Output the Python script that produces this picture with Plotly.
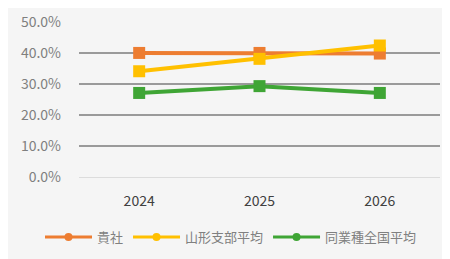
import plotly.graph_objects as go

years = ["2024", "2025", "2026"]
kisha = [0.400, 0.400, 0.398]
yamagata = [0.341, 0.381, 0.424]
zenkoku = [0.271, 0.293, 0.271]
names = ["貴社", "山形支部平均", "同業種全国平均"]
colors = ["#ED7D31", "#FFC000", "#3FA535"]
ytick_vals = [0, 0.1, 0.2, 0.3, 0.4, 0.5]

fig = go.Figure()
for name, vals, c in zip(names, [kisha, yamagata, zenkoku], colors):
    fig.add_trace(go.Scatter(
        x=years, y=vals, name=name, mode="lines+markers", showlegend=False,
        line=dict(color=c, width=4),
        marker=dict(symbol="square", size=12, color=c),
    ))
    # legend-only entry styled like the reference legend key
    fig.add_trace(go.Scatter(
        x=[None], y=[None], name=name, mode="lines+markers",
        line=dict(color=c, width=3),
        marker=dict(symbol="circle", size=8, color=c),
    ))

# page body has an 8px margin, so the figure is drawn 8px in and 8px down
W, H = 442, 251
L, R, T, B = 71, 10, 13, 82
pw, ph = W - L - R, H - T - B
fig.update_layout(
    width=W, height=H,
    margin=dict(l=L, r=R, t=T, b=B, autoexpand=False),
    paper_bgcolor="#f5f5f5", plot_bgcolor="#f5f5f5",
    font=dict(family="Noto Sans CJK JP, Noto Sans, sans-serif"),
    xaxis=dict(type="category", range=[-0.5, 2.5], showgrid=False, showline=False,
               ticks="", tickfont=dict(size=14, color="#404040"), ticklabelstandoff=14),
    yaxis=dict(range=[0, 0.503], tickvals=ytick_vals, tickformat=".1%",
               showgrid=True, gridcolor="#9a9a9a", gridwidth=1.5,
               zeroline=True, zerolinecolor="#dcdcdc", zerolinewidth=1,
               tickfont=dict(size=14, color="#7f7f7f"), ticklabelstandoff=17),
    legend=dict(orientation="h", x=(32 - L) / pw, xanchor="left", xref="paper",
                y=-(229 - (H - B)) / ph, yanchor="middle", yref="paper",
                font=dict(size=13, color="#808080"), itemwidth=47,
                bgcolor="rgba(0,0,0,0)"),
    showlegend=True,
)
fig.write_html("out.html")
